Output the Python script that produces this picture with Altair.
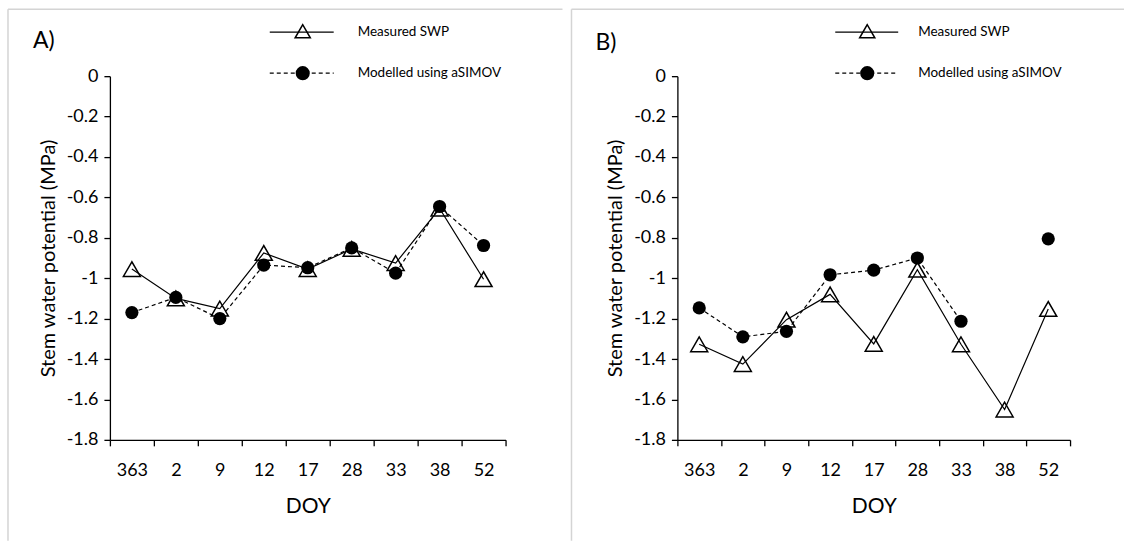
import altair as alt
import pandas as pd

# ---- data ----
doy = ["363", "2", "9", "12", "17", "28", "33", "38", "52"]
a_measured = [-0.955, -1.10, -1.15, -0.875, -0.955, -0.855, -0.925, -0.655, -1.005]
a_modelled = [-1.17, -1.095, -1.20, -0.935, -0.948, -0.85, -0.975, -0.645, -0.838]
b_measured = [-1.327, -1.425, -1.205, -1.08, -1.325, -0.958, -1.327, -1.65, -1.152]
b_modelled = [-1.147, -1.29, -1.263, -0.983, -0.96, -0.90, -1.213, None, -0.805]
series_names = ["Measured SWP", "Modelled using aSIMOV"]
y_ticks = [0, -0.2, -0.4, -0.6, -0.8, -1.0, -1.2, -1.4, -1.6, -1.8]
panel_labels = ["A)", "B)"]
x_title = "DOY"
y_title = "Stem water potential (MPa)"

FONT = "Lato"
H = 364
BORDER = "#d4d4d4"
LEG_FS = 13.5


def panel(measured, modelled, label, width, left_border, right_border,
          lab_x, lab_y, leg_x0, leg_x1, leg_mx, leg_tx):
    df = pd.DataFrame({"doy": doy, "measured": measured, "modelled": modelled})
    xax = alt.Axis(title=x_title, tickBand="extent", labelAngle=0, grid=False,
                   labelPadding=16, titlePadding=16)
    x = alt.X("doy:N", sort=doy,
              scale=alt.Scale(type="band", paddingInner=0, paddingOuter=0),
              axis=xax)
    ysc = alt.Scale(domain=[-1.8, 0], nice=False, zero=False)
    yax = alt.Axis(title=y_title, values=y_ticks, grid=False,
                   labelExpr="datum.value == 0 ? '0' : '-' + format(-datum.value, '.1~f')",
                   labelPadding=6, titlePadding=8)
    base = alt.Chart(df)
    m_line = base.mark_line(color="black", strokeWidth=1.2).encode(
        x=x, y=alt.Y("measured:Q", scale=ysc, axis=yax))
    d_line = base.mark_line(color="black", strokeWidth=1.2, strokeDash=[4, 3],
                            invalid="break-paths-show-domains").encode(
        x=x, y=alt.Y("modelled:Q", scale=ysc, axis=yax))
    tri = base.mark_point(shape="triangle-up", filled=False, color="black",
                          strokeWidth=1.5, size=290, opacity=1).encode(
        x=x, y=alt.Y("measured:Q", scale=ysc, axis=yax))
    circ = base.mark_point(shape="circle", filled=True, color="black",
                           size=175, opacity=1).encode(
        x=x, y=alt.Y("modelled:Q", scale=ysc, axis=yax))

    one = lambda v: pd.DataFrame({"t": [v]})
    # legend row 1
    l1 = alt.Chart(one(series_names[0])).mark_rule(color="black", strokeWidth=1.2).encode(
        x=alt.value(leg_x0), x2=alt.value(leg_x1), y=alt.value(-44))
    l1p = alt.Chart(one(series_names[0])).mark_point(
        shape="triangle-up", filled=False, color="black", strokeWidth=1.5,
        size=230, opacity=1).encode(x=alt.value(leg_mx), y=alt.value(-45))
    l1t = alt.Chart(one(series_names[0])).mark_text(
        align="left", baseline="middle", font=FONT, fontSize=LEG_FS, color="black").encode(
        x=alt.value(leg_tx), y=alt.value(-44), text="t:N")
    # legend row 2
    l2 = alt.Chart(one(series_names[1])).mark_rule(
        color="black", strokeWidth=1.2, strokeDash=[4, 3]).encode(
        x=alt.value(leg_x0), x2=alt.value(leg_x1), y=alt.value(-3))
    l2p = alt.Chart(one(series_names[1])).mark_point(
        shape="circle", filled=True, color="black", size=200, opacity=1).encode(
        x=alt.value(leg_mx), y=alt.value(-3))
    l2t = alt.Chart(one(series_names[1])).mark_text(
        align="left", baseline="middle", font=FONT, fontSize=LEG_FS, color="black").encode(
        x=alt.value(leg_tx), y=alt.value(-3), text="t:N")
    # panel label
    lab = alt.Chart(one(label)).mark_text(
        align="left", baseline="middle", font=FONT, fontSize=23, color="black").encode(
        x=alt.value(lab_x), y=alt.value(lab_y), text="t:N")
    # panel border (decoration)
    bl = alt.Chart(one(label)).mark_rule(color=BORDER, strokeWidth=1.5).encode(
        x=alt.value(left_border), y=alt.value(-67), y2=alt.value(H + 101))
    bt = alt.Chart(one(label)).mark_rule(color=BORDER, strokeWidth=1.5).encode(
        x=alt.value(left_border), x2=alt.value(right_border), y=alt.value(-67))
    layers = [bl, bt]
    if right_border < 440:
        br = alt.Chart(one(label)).mark_rule(color=BORDER, strokeWidth=1.5).encode(
            x=alt.value(right_border), y=alt.value(-67), y2=alt.value(H + 101))
        layers.append(br)
    layers += [m_line, d_line, tri, circ, l1, l1p, l1t, l2, l2p, l2t, lab]
    return alt.layer(*layers).properties(width=width, height=H)


pa = panel(a_measured, a_modelled, panel_labels[0], 396,
           left_border=-102, right_border=453,
           lab_x=-77, lab_y=-35, leg_x0=160, leg_x1=224, leg_mx=193, leg_tx=248)
pb = panel(b_measured, b_modelled, panel_labels[1], 393,
           left_border=-106, right_border=447,
           lab_x=-82, lab_y=-33, leg_x0=158, leg_x1=221, leg_mx=190, leg_tx=241)

chart = alt.hconcat(pa, pb, spacing=172, bounds="flush").properties(
    padding={"left": 7, "top": 8, "right": 0, "bottom": 0},
    background="white",
).configure_view(stroke=None).configure_axis(
    domainColor="black", domainWidth=1.3, tickColor="black", tickWidth=1.3,
    tickSize=6, labelFont=FONT, labelFontSize=18, labelColor="black",
    titleFont=FONT, titleFontSize=20, titleFontWeight="normal", titleColor="black"
).configure_axisX(titleFontSize=21)

chart.save("out.html", embed_options={"renderer": "svg", "actions": False})
